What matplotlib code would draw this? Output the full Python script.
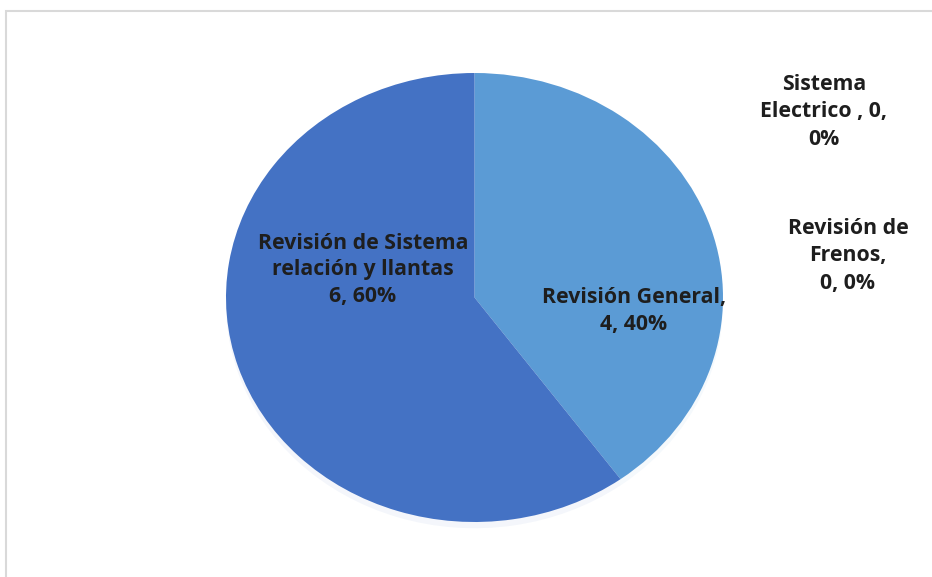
import matplotlib
matplotlib.use("Agg")
import matplotlib.pyplot as plt
from matplotlib.patches import Rectangle

# Data
categories = ["Revisión General", "Revisión de Sistema relación y llantas",
              "Sistema Electrico", "Revisión de Frenos"]
values = [4, 6, 0, 0]
colors = ["#5B9BD5", "#4472C4", "#A5A5A5", "#FFC000"]

total = sum(values)
pcts = [round(100 * v / total) for v in values]
label_texts = [
    f"Revisión General,\n{values[0]}, {pcts[0]}%",
    f"Revisión de Sistema\nrelación y llantas\n{values[1]}, {pcts[1]}%",
    f"Sistema\nElectrico , {values[2]},\n{pcts[2]}%",
    f"Revisión de\nFrenos,\n{values[3]}, {pcts[3]}%",
]
# label centres in figure pixels (from top-left) and line spacing
label_pos = [(634, 311), (363, 270), (824, 112), (848, 256)]
label_spacing = [1.33, 1.33, 1.4, 1.4]

W, H = 932, 577
fig = plt.figure(figsize=(W / 100, H / 100), dpi=100)
fig.patch.set_facecolor("white")

# outer chart frame
fig.patches.append(Rectangle((5.5 / W, -0.05), 1.1, (H - 10.5) / H + 0.05,
                             transform=fig.transFigure, fill=False,
                             edgecolor="#d9d9d9", linewidth=1.5))

left, right, top, bottom = 226, 723, 73, 522
ax = fig.add_axes([left / W, (H - bottom) / H, (right - left) / W, (bottom - top) / H])
ax.pie(values, colors=colors, startangle=90, counterclock=False,
       wedgeprops=dict(linewidth=0),
       shadow=dict(ox=0.0, oy=-0.02, alpha=0.06, shade=0.0))
ax.set_xlim(-1, 1)
ax.set_ylim(-1, 1)
ax.set_aspect("auto")
ax.axis("off")

for txt, (px, py), ls in zip(label_texts, label_pos, label_spacing):
    fig.text(px / W, 1 - py / H, txt, ha="center", va="center",
             fontsize=15.3, fontweight="bold", family=["Open Sans", "DejaVu Sans"],
             color="#1e1e1e", linespacing=ls)

fig.savefig("out.png", dpi=100)
